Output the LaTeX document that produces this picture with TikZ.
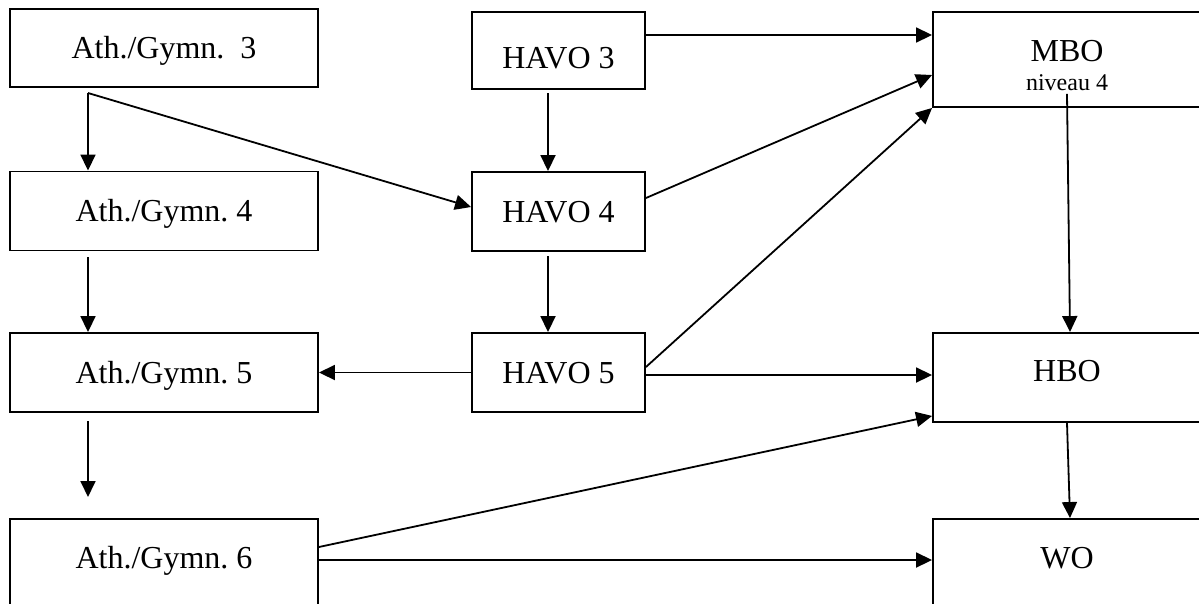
\documentclass[tikz,border=0pt]{standalone}
\usepackage{fontspec}
\setmainfont{Liberation Serif}
\usetikzlibrary{arrows.meta}
\frenchspacing
\begin{document}
\begin{tikzpicture}[x=1pt,y=-1pt,
  box/.style={draw, line width=1.9pt, inner sep=0pt, text height=21pt, text depth=0pt,
    font=\fontsize{32}{38}\selectfont},
  arr/.style={line width=1.8pt, -{Triangle[length=16pt,width=15pt]}}]
\useasboundingbox (0,0) rectangle (1199,603);
\fill[white] (0,0) rectangle (1199,603);
\clip (0,0) rectangle (1199,603);
% left column
\node[box, minimum width=308pt, minimum height=78pt] (a3) at (164,48) {Ath./Gymn.~~3};
\node[box, minimum width=308pt, minimum height=79pt] (a4) at (164,211) {Ath./Gymn. 4};
\node[box, minimum width=308pt, minimum height=79pt] (a5) at (164,372.5) {Ath./Gymn. 5};
\node[box, minimum width=308pt, minimum height=91pt] (a6) at (164,564.5) {\raisebox{7pt}{Ath./Gymn. 6}};
% middle column
\node[box, minimum width=173pt, minimum height=77pt] (h3) at (558.5,50.5) {\raisebox{-7pt}{HAVO 3}};
\node[box, minimum width=173pt, minimum height=79pt] (h4) at (558.5,211.5) {HAVO 4};
\node[box, minimum width=173pt, minimum height=79pt] (h5) at (558.5,372.5) {HAVO 5};
% right column
\node[box, minimum width=268pt, minimum height=95pt] (mbo) at (1067,59.5) {};
\node[anchor=base, inner sep=0pt, font=\fontsize{32}{38}\selectfont] (mbot) at (1067,61) {MBO};
\node[anchor=base, inner sep=0pt, font=\fontsize{24}{28}\selectfont] (mbon) at (1067,90) {niveau 4};
\node[box, minimum width=268pt, minimum height=89pt] (hbo) at (1067,377.5) {\raisebox{7pt}{HBO}};
\node[box, minimum width=268pt, minimum height=91pt] (wo) at (1067,564.5) {\raisebox{7pt}{WO}};
% free ends
\coordinate (a3out) at (88,93);
\coordinate (a4out) at (88,257);
\coordinate (a5out) at (88,421);
\coordinate (a6in) at (88,497);
\coordinate (h3out) at (548,93);
\coordinate (h4out) at (548,256);
% connectors
\draw[arr] (a3out) -- (a3out |- a4.north);
\draw[arr] (a3out) -- ([yshift=4.5pt]h4.west);
\draw[arr] (a4out) -- (a4out |- a5.north);
\draw[arr] (a5out) -- (a6in);
\draw[arr] (h3out) -- (h3out |- h4.north);
\draw[arr] (h4out) -- (h4out |- h5.north);
\draw[arr] (h5.west) -- (a5.east);
\draw[arr] ([yshift=15.5pt]h3.east) -- ([yshift=24.5pt]mbo.west);
\draw[arr] ([yshift=13.5pt]h4.east) -- ([yshift=-15.5pt]mbo.west);
\draw[arr] ([yshift=5.5pt]h5.east) -- (mbo.south west);
\draw[arr] ([yshift=-2.5pt]h5.east) -- ([yshift=2.5pt]hbo.west);
\draw[arr] ([yshift=17.5pt]a6.east) -- ([yshift=7pt]hbo.south west);
\draw[arr] ([yshift=4.5pt]a6.east) -- ([yshift=4.5pt]wo.west);
\draw[arr] ([yshift=14pt]mbo.south) -- ([xshift=3pt]hbo.north);
\draw[arr] (hbo.south) -- ([xshift=3pt]wo.north);
\end{tikzpicture}
\end{document}
